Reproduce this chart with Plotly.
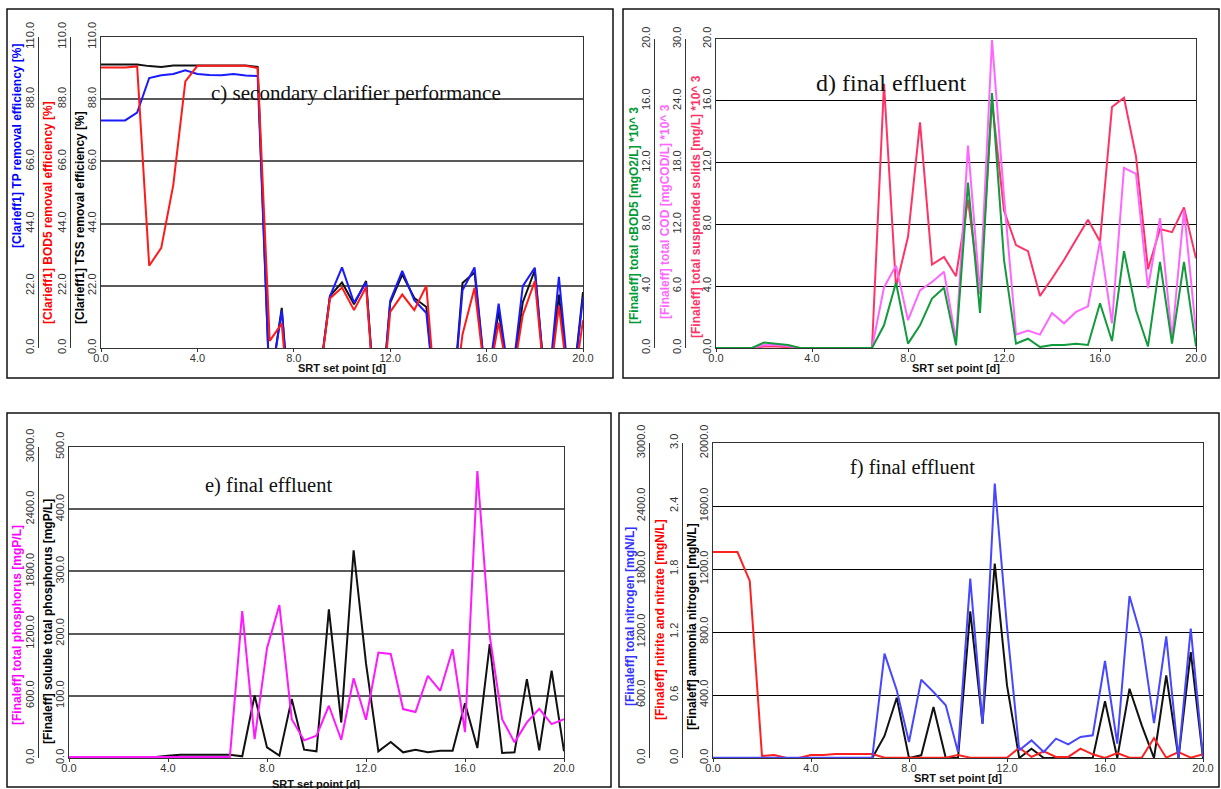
import plotly.graph_objects as go

W, H = 1221, 789

# SRT set points [d]
srt = [0.0, 0.5, 1.0, 1.5, 2.0, 2.5, 3.0, 3.5, 4.0, 4.5, 5.0, 5.5, 6.0, 6.5, 7.0,
       7.5, 8.0, 8.5, 9.0, 9.5, 10.0, 10.5, 11.0, 11.5, 12.0, 12.5, 13.0, 13.5,
       14.0, 14.5, 15.0, 15.5, 16.0, 16.5, 17.0, 17.5, 18.0, 18.5, 19.0, 19.5, 20.0]

# c) secondary clarifier removal efficiencies [%]
clar_tp = [80.5, 80.5, 80.5, 83.3, 95.5, 96.5, 96.9, 98.2, 96.9, 96.6, 96.5, 96.9, 96.4, 96.2,
           -15, 13.3, -40, -40, -15, 18.3, 28.5, 16.0, 23.2, -35, 16.7, 27.3, 16.9, 12.4,
           -30, -30, 20.4, 28.5, -15, 15.7, -15, 21.9, 28.4, -20, 25.2, -20, 18.0]
clar_bod5 = [99.2, 99.2, 99.2, 99.6, 29.1, 35.4, 57.7, 94.3, 99.8, 99.8, 99.8, 99.8, 99.8, 99.0,
             2.5, 8.6, -40, -40, -15, 17.5, 21.4, 13.4, 21.6, -35, 12.8, 18.9, 13.4, 22.0,
             -30, -30, 4.8, 21.3, -15, 9.0, -15, 11.6, 23.7, -20, 14.9, -20, 9.8]
clar_tss = [100.3, 100.3, 100.3, 100.3, 99.7, 99.4, 99.9, 99.9, 99.9, 99.9, 99.9, 99.9, 99.9, 99.4,
            -15, 14.2, -40, -40, -15, 18.4, 23.2, 15.5, 23.7, -35, 16.0, 26.0, 17.7, 14.5,
            -30, -30, 23.0, 26.7, -15, 13.0, -15, 16.1, 27.5, -20, 18.9, -20, 19.8]

# d) final effluent, *10^3
eff_cbod5 = [0, 0, 0, 0, 0.35, 0.28, 0.2, 0, 0, 0, 0, 0, 0, 0,
             1.47, 4.24, 0.28, 1.47, 3.2, 3.9, 0.17, 10.7, 2.27, 16.5, 5.7, 0.28, 0.6, 0.06,
             0.2, 0.2, 0.28, 0.2, 2.9, 0.45, 6.27, 2.44, 0.1, 5.58, 0.28, 5.58, 0.1]
eff_cod = [0, 0, 0, 0, 0.3, 0.3, 0.2, 0, 0, 0, 0, 0, 0, 0,
           5.9, 8.0, 2.7, 5.6, 6.4, 7.4, 0.75, 19.65, 5.3, 29.9, 14.7, 1.3, 1.7, 1.3,
           3.4, 2.4, 3.5, 4.05, 10.4, 2.4, 17.5, 16.9, 5.8, 12.6, 0.9, 13.4, 1.6]
eff_tss = [0, 0, 0, 0, 0.1, 0.1, 0.05, 0, 0, 0, 0, 0, 0, 0,
           17.1, 3.96, 7.2, 14.6, 5.4, 5.9, 4.65, 9.6, 3.5, 16.0, 8.9, 6.66, 6.27, 3.37,
           4.5, 5.7, 7.0, 8.3, 6.9, 15.6, 16.2, 12.4, 5.1, 7.7, 7.5, 9.1, 5.8]

# e) final effluent phosphorus [mgP/L]
eff_tp = [10, 10, 10, 10, 10, 10, 10, 10, 10, 10, 10, 10, 10, 10,
          1418, 183, 1059, 1476, 375, 170, 215, 504, 176, 770, 369, 1017, 1004, 472,
          443, 793, 648, 1049, 250, 2769, 1178, 375, 151, 343, 475, 327, 375]
eff_stp = [1.6, 1.6, 1.6, 1.6, 1.6, 1.6, 1.6, 1.6, 3.7, 5.3, 5.3, 5.3, 5.3, 5.3,
           2.7, 100.5, 17, 3.7, 95, 13.4, 10.7, 239, 57, 334, 152, 10.7, 25.7, 9.1,
           13.4, 9.1, 11.8, 11.8, 88, 16, 183, 8, 9.1, 126.7, 12.3, 140.6, 10.7]

# f) final effluent nitrogen [mgN/L]
eff_tn = [3, 3, 3, 3, 3, 3, 3, 3, 3, 3, 3, 3, 3, 3,
          994, 645, 152, 746, 629, 502, 57, 1708, 327, 2613, 1248, 73, 168, 57,
          184, 130, 200, 216, 924, 137, 1543, 1137, 333, 1159, 0, 1232, 10]
eff_nox = [1.962, 1.962, 1.962, 1.686, 0.019, 0.029, 0.0, 0.0, 0.029, 0.029, 0.038, 0.038, 0.038, 0.038,
           0.003, 0.003, 0.003, 0.003, 0.003, 0.003, 0.029, 0.003, 0.003, 0.003, 0.003, 0.098, 0.01, 0.064,
           0.01, 0.01, 0.089, 0.035, 0.0, 0.048, 0.003, 0.003, 0.19, 0.003, 0.057, 0.003, 0.035]
eff_nh4 = [0, 0, 0, 0, 0, 0, 0, 0, 0, 0, 0, 0, 0, 0,
           140, 383, 0, 17, 324, 0, 0, 931, 218, 1234, 461, 0, 59, 0,
           0, 0, 0, 0, 360, 0, 440, 207, 0, 525, 0, 673, 0]

# axis tick values
ticks_110 = [0, 22, 44, 66, 88, 110]
ticks_20 = [0, 4, 8, 12, 16, 20]
ticks_30 = [0, 6, 12, 18, 24, 30]
ticks_500 = [0, 100, 200, 300, 400, 500]
ticks_3000 = [0, 600, 1200, 1800, 2400, 3000]
ticks_2000 = [0, 400, 800, 1200, 1600, 2000]
ticks_3 = [0, 0.6, 1.2, 1.8, 2.4, 3.0]
ticks_x = [0, 4, 8, 12, 16, 20]


def px(x):
    return x / W


def py(y):
    return 1 - y / H


SANS = "Liberation Sans, Arial, sans-serif"
SERIF = "Liberation Serif, Times New Roman, serif"
TICK_FONT = dict(family=SANS, size=11, color="#333333")


def yax(vals, **kw):
    d = dict(range=[vals[0], vals[-1]], tickmode="array", tickvals=vals,
             ticktext=["%.1f" % v for v in vals], tickangle=-90,
             showgrid=False, zeroline=False, showline=True, linecolor="#333333",
             linewidth=1, ticks="", tickfont=TICK_FONT, fixedrange=True,
             automargin=False)
    d.update(kw)
    return d


def xax(domain, anchor):
    return dict(domain=domain, anchor=anchor, range=[0, 20], tickmode="array",
                tickvals=ticks_x, ticktext=["%.1f" % v for v in ticks_x],
                showgrid=False, zeroline=False, showline=True, mirror=True,
                linecolor="#333333", linewidth=1, ticks="outside", ticklen=3,
                tickcolor="#333333", tickfont=TICK_FONT, fixedrange=True,
                ticklabelstandoff=-3, automargin=False)


fig = go.Figure()


def line(y, color, xa, ya):
    fig.add_trace(go.Scatter(x=srt, y=y, mode="lines", xaxis=xa, yaxis=ya,
                             line=dict(color=color, width=2), hoverinfo="skip"))


# c) secondary clarifier
line(clar_tss, "#111111", "x", "y")
line(clar_bod5, "#ff1a1a", "x", "y3")
line(clar_tp, "#1a1aff", "x", "y2")

# d) final effluent solids / organics
line(eff_tss, "#ff3366", "x2", "y4")
line(eff_cod, "#ff66ff", "x2", "y5")
line(eff_cbod5, "#129a3c", "x2", "y6")

# e) final effluent phosphorus
line(eff_stp, "#111111", "x3", "y7")
line(eff_tp, "#ff19ff", "x3", "y8")

# f) final effluent nitrogen
line(eff_nh4, "#111111", "x4", "y9")
line(eff_nox, "#ff2020", "x4", "y10")
line(eff_tn, "#4747ff", "x4", "y11")

dom_c_y = [py(348), py(37)]
dom_d_y = [py(348), py(39)]
dom_e_y = [py(758), py(447)]
dom_f_y = [py(758), py(443)]

GRID_GRAY = dict(showgrid=True, gridcolor="#5a5a5a", gridwidth=1.5)
GRID_BLACK = dict(showgrid=True, gridcolor="#000000", gridwidth=1)

fig.update_layout(
    width=W, height=H, margin=dict(l=0, r=0, t=0, b=0, autoexpand=False),
    paper_bgcolor="white", plot_bgcolor="white", showlegend=False,
    xaxis=xax([px(101), px(583)], "y"),
    xaxis2=xax([px(716), px(1196)], "y4"),
    xaxis3=xax([px(69), px(564)], "y7"),
    xaxis4=xax([px(713), px(1203)], "y9"),
    yaxis=yax(ticks_110, domain=dom_c_y, anchor="x", mirror=True, **GRID_GRAY),
    yaxis2=yax(ticks_110, overlaying="y", anchor="free", position=px(38)),
    yaxis3=yax(ticks_110, overlaying="y", anchor="free", position=px(70)),
    yaxis4=yax(ticks_20, domain=dom_d_y, anchor="x2", mirror=True, **GRID_BLACK),
    yaxis5=yax(ticks_30, overlaying="y4", anchor="free", position=px(685)),
    yaxis6=yax(ticks_20, overlaying="y4", anchor="free", position=px(654)),
    yaxis7=yax(ticks_500, domain=dom_e_y, anchor="x3", mirror=True, **GRID_GRAY),
    yaxis8=yax(ticks_3000, overlaying="y7", anchor="free", position=px(38)),
    yaxis9=yax(ticks_2000, domain=dom_f_y, anchor="x4", mirror=True, **GRID_BLACK),
    yaxis10=yax(ticks_3, overlaying="y9", anchor="free", position=px(682)),
    yaxis11=yax(ticks_3000, overlaying="y9", anchor="free", position=px(649)),
)

# y-axis titles, written vertically beside their axes
y_titles = [
    ("[Clarieff1] TP removal efficiency [%]", "#0000ff", 17, 146),
    ("[Clarieff1] BOD5 removal efficiency [%]", "#ff0000", 48, 213),
    ("[Clarieff1] TSS removal efficiency [%]", "#000000", 80, 218),
    ("[Finaleff] total cBOD5 [mgO2/L] *10^ 3", "#009933", 634, 216),
    ("[Finaleff] total COD [mgCOD/L] *10^ 3", "#ff66ff", 665, 212),
    ("[Finaleff] total suspended solids [mg/L] *10^ 3", "#ff3366", 696, 207),
    ("[Finaleff] total phosphorus [mgP/L]", "#ff00ff", 17, 625),
    ("[Finaleff] soluble total phosphorus [mgP/L]", "#000000", 48, 622),
    ("[Finaleff] total nitrogen [mgN/L]", "#3333ff", 630, 617),
    ("[Finaleff] nitrite and nitrate [mgN/L]", "#ff0000", 660, 620),
    ("[Finaleff] ammonia nitrogen [mgN/L]", "#000000", 692, 627),
]
for text, color, cx, cy in y_titles:
    fig.add_annotation(text=text, xref="paper", yref="paper", x=px(cx), y=py(cy),
                       showarrow=False, textangle=-90, xanchor="center", yanchor="middle",
                       font=dict(family=SANS, size=12, color=color, weight="bold"))

# panel frames
for x0, y0, x1, y1 in [(7, 9, 613, 378), (623, 9, 1219, 378),
                       (7, 413, 611, 787), (619, 413, 1219, 787)]:
    fig.add_shape(type="rect", xref="paper", yref="paper",
                  x0=px(x0), x1=px(x1), y0=py(y1), y1=py(y0),
                  line=dict(color="#111111", width=1.5), fillcolor="rgba(0,0,0,0)",
                  layer="above")

# panel captions
for text, cx, cy, size in [("c) secondary clarifier performance", 356, 93, 21),
                           ("d) final effluent", 891, 83, 24),
                           ("e) final effluent", 268, 485, 20.5),
                           ("f) final effluent", 912, 468, 20.5)]:
    fig.add_annotation(text=text, xref="paper", yref="paper", x=px(cx), y=py(cy),
                       showarrow=False, xanchor="center", yanchor="middle",
                       font=dict(family=SERIF, size=size, color="#111111"))

# x-axis titles
for cx, cy in [(342, 368), (956, 368), (316, 784), (958, 778)]:
    fig.add_annotation(text="SRT set point [d]", xref="paper", yref="paper",
                       x=px(cx), y=py(cy), showarrow=False,
                       xanchor="center", yanchor="middle",
                       font=dict(family=SANS, size=11, color="#111111", weight="bold"))

fig.write_html("out.html")
